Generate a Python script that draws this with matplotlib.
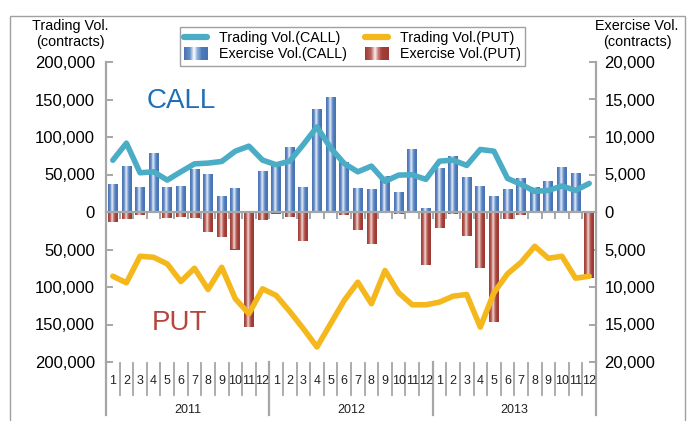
import numpy as np
import matplotlib
matplotlib.use("Agg")
import matplotlib.pyplot as plt
from matplotlib.colors import LinearSegmentedColormap
from matplotlib.lines import Line2D
from matplotlib.patches import Rectangle
from matplotlib.legend_handler import HandlerBase

plt.rcParams['font.family'] = ['Liberation Sans', 'DejaVu Sans']

# ---------------- data ----------------
months = [str(m) for m in range(1, 13)] * 3
years = ['2011', '2012', '2013']

call_trading = [69000, 91800, 52300, 53600, 42600, 53600, 64200, 65200, 67400, 81100, 87800, 69200,
                63000, 67800, 90000, 113500, 85500, 64700, 53600, 61200, 40800, 49200, 49600, 43500,
                67800, 69200, 62100, 83400, 81100, 44800, 36800, 27500, 28800, 34600, 28800, 38100]
put_trading = [85600, 94400, 59000, 60400, 69200, 92700, 75000, 103300, 73700, 115700, 135600, 102400,
               111300, 132600, 155600, 180000, 149000, 118000, 93600, 122300, 78000, 107700, 123700, 123700,
               120200, 112200, 110000, 153500, 107700, 82400, 67000, 45700, 61700, 59000, 88300, 85600]
call_exercise = [3800, 6100, 3330, 7850, 3330, 3460, 5760, 5050, 2130, 3190, 0, 5450,
                 6100, 8650, 3330, 13700, 15300, 6650, 3190, 3060, 4800, 2660, 8420, 530,
                 5850, 7450, 4650, 3460, 2130, 3060, 4520, 3330, 4120, 5980, 5190, 0]
put_exercise = [1330, 970, 400, 0, 800, 660, 800, 2660, 3330, 5000, 15300, 1060,
                200, 660, 3860, 0, 0, 350, 2400, 4260, 100, 270, 0, 7100,
                2130, 270, 3200, 7450, 14630, 970, 350, 0, 0, 0, 0, 8820]

left_ticks = [200000, 150000, 100000, 50000, 0, -50000, -100000, -150000, -200000]
right_ticks = [20000, 15000, 10000, 5000, 0, -5000, -10000, -15000, -20000]

# ---------------- style ----------------
CALL_LINE = '#4bacc6'
PUT_LINE = '#f5b81c'
GRAY = '#a6a6a6'
blue_cmap = LinearSegmentedColormap.from_list('bl', [
    (0.0, '#4772b0'), (0.25, '#6890ca'), (0.42, '#ffffff'), (0.56, '#8cafdc'),
    (0.75, '#4e7cbd'), (1.0, '#4772b0')])
red_cmap = LinearSegmentedColormap.from_list('rd', [
    (0.0, '#9c3a33'), (0.25, '#b7625b'), (0.42, '#fbeeee'), (0.56, '#c67a73'),
    (0.75, '#a33e37'), (1.0, '#9c3a33')])

W, H = 691, 421
fig = plt.figure(figsize=(W / 100, H / 100), dpi=100)

# outer frame
fig.patches.append(Rectangle((10 / W, -0.02), 675 / W, 1 - 16 / H + 0.02,
                             transform=fig.transFigure, fill=False,
                             edgecolor='#a0a0a0', linewidth=1.0, zorder=0))

ax = fig.add_axes([106 / W, (H - 362) / H, 490 / W, 300 / H])
ax2 = ax.twinx()
x = np.arange(len(months))

# ---------- bars (exercise) on ax2 ----------
grad = np.linspace(0, 1, 64).reshape(1, -1)
bw = 0.72
bars_c = ax2.bar(x, call_exercise, width=bw, color='#4e7cbd', linewidth=0)
bars_p = ax2.bar(x, [-v for v in put_exercise], width=bw, color='#a33e37', linewidth=0)
for bars, cm in ((bars_c, blue_cmap), (bars_p, red_cmap)):
    for r in bars:
        if r.get_height() == 0:
            continue
        x0, y0, w, h = r.get_x(), r.get_y(), r.get_width(), r.get_height()
        im = ax2.imshow(grad, cmap=cm, aspect='auto', extent=(x0, x0 + w, y0, y0 + h),
                        interpolation='bicubic', zorder=2)
        im.set_clip_path(r)

# ---------- lines (trading) on ax ----------
ax.plot(x, call_trading, color=CALL_LINE, lw=4.0, solid_joinstyle='round',
        solid_capstyle='round', zorder=5)
ax.plot(x, [-v for v in put_trading], color=PUT_LINE, lw=4.0, solid_joinstyle='round',
        solid_capstyle='round', zorder=5)

ax.set_zorder(ax2.get_zorder() + 1)
ax.patch.set_visible(False)

ax.set_xlim(-0.5, len(months) - 0.5)
ax2.set_xlim(-0.5, len(months) - 0.5)
ax.set_ylim(-200000, 200000)
ax2.set_ylim(-20000, 20000)

ax.set_yticks(left_ticks)
ax.set_yticklabels([f'{abs(v):,}' for v in left_ticks])
ax2.set_yticks(right_ticks)
ax2.set_yticklabels([f'{abs(v):,}' for v in right_ticks])

for a in (ax, ax2):
    a.spines['top'].set_visible(False)
ax.spines['right'].set_visible(False)
ax2.spines['left'].set_visible(False)
ax2.spines['bottom'].set_visible(False)
ax.spines['left'].set_color(GRAY)
ax.spines['left'].set_linewidth(1.6)
ax2.spines['right'].set_color(GRAY)
ax2.spines['right'].set_linewidth(1.6)
ax.spines['bottom'].set_position(('data', 0))
ax.spines['bottom'].set_color(GRAY)
ax.spines['bottom'].set_linewidth(1.6)

ax.tick_params(axis='y', direction='in', length=5, width=1.4, color=GRAY,
               labelsize=12, pad=8)
ax2.tick_params(axis='y', direction='in', length=5, width=1.4, color=GRAY,
                labelsize=12, pad=6)
ax.set_xticks(np.arange(-0.5, len(months), 1))
ax.set_xticklabels([])
ax.tick_params(axis='x', direction='out', length=5, width=1.4, color=GRAY)
ax2.tick_params(axis='x', bottom=False, labelbottom=False)

# ---------- category axis below the plot ----------
tr = ax.get_xaxis_transform()
for i, m in enumerate(months):
    ax.text(i, -0.063, m, transform=tr, ha='center', va='center', fontsize=9,
            color='#222222')
for b in range(1, len(months)):
    if b % 12 == 0:
        continue
    ax.plot([b - 0.5, b - 0.5], [-0.004, -0.11], transform=tr, color=GRAY,
            lw=1.3, clip_on=False)
for b in range(0, len(months) + 1, 12):
    ax.plot([b - 0.5, b - 0.5], [0.0, -0.178], transform=tr, color=GRAY,
            lw=1.6, clip_on=False)
for j, yname in enumerate(years):
    ax.text(j * 12 + 5.5, -0.16, yname, transform=tr, ha='center', va='center',
            fontsize=9, color='#222222')

# ---------- axis titles ----------
fig.text(70 / W, 1 - 19 / H, 'Trading Vol.\n(contracts)', ha='center', va='top',
         fontsize=10.4, linespacing=1.15)
fig.text(637 / W, 1 - 19 / H, 'Exercise Vol.\n(contracts)', ha='center', va='top',
         fontsize=10.4, linespacing=1.15)

# ---------- big labels ----------
fig.text(181 / W, 1 - 101 / H, 'CALL', ha='center', va='center', fontsize=20,
         color='#1f6eb8')
fig.text(180 / W, 1 - 323 / H, 'PUT', ha='center', va='center', fontsize=20,
         color='#b5463f')


# ---------- legend ----------
class GradHandler(HandlerBase):
    def __init__(self, cmap):
        super().__init__()
        self.cmap = cmap

    def create_artists(self, legend, orig_handle, xdescent, ydescent, width, height,
                       fontsize, trans):
        n = 24
        arts = []
        hh = height * 1.25
        y0 = -ydescent - (hh - height) / 2
        for k in range(n):
            c = self.cmap((k + 0.5) / n)
            arts.append(Rectangle((-xdescent + width * k / n, y0), width / n + 0.3, hh,
                                  facecolor=c, edgecolor='none', transform=trans))
        return arts


h_call_line = Line2D([], [], color=CALL_LINE, lw=4.5, solid_capstyle='round')
h_put_line = Line2D([], [], color=PUT_LINE, lw=4.5, solid_capstyle='round')
h_call_bar = Rectangle((0, 0), 1, 1)
h_put_bar = Rectangle((0, 0), 1, 1)
leg = fig.legend([h_call_line, h_call_bar, h_put_line, h_put_bar],
                 ['Trading Vol.(CALL)', 'Exercise Vol.(CALL)',
                  'Trading Vol.(PUT)', 'Exercise Vol.(PUT)'],
                 handler_map={h_call_bar: GradHandler(blue_cmap),
                              h_put_bar: GradHandler(red_cmap)},
                 ncol=2, loc='upper left', bbox_to_anchor=(180 / W, 1 - 27 / H),
                 fontsize=10.3, frameon=True, fancybox=False, framealpha=1,
                 edgecolor='#a0a0a0', handlelength=1.6, handletextpad=0.8,
                 columnspacing=1.3, labelspacing=0.15, borderpad=0.3,
                 borderaxespad=0)
leg.get_frame().set_linewidth(1.0)

fig.savefig('out.png', dpi=100)
